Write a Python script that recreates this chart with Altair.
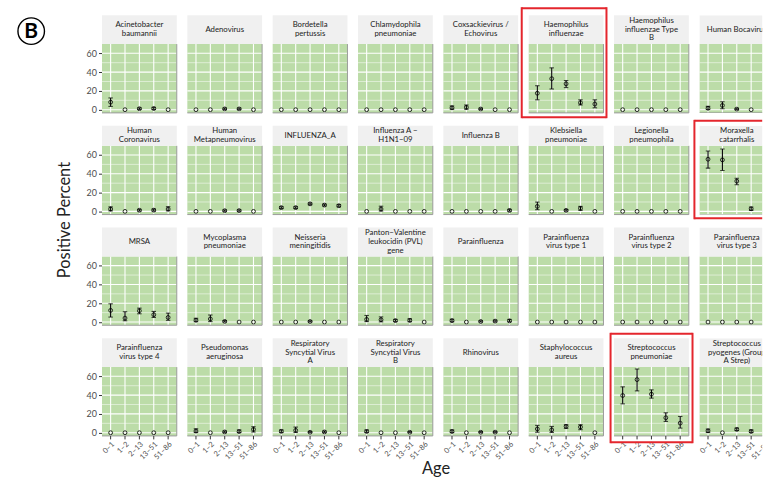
import altair as alt
import pandas as pd

FONT = "Lato"
GREEN = "#bcdca8"
STRIP_FILL = "#f0f0f0"
RED = "#e4262d"
INK = "#222222"
AXIS_INK = "#4d4d4d"

AGE_GROUPS = ["0–1", "1–2", "2–13", "13–51", "51–86"]

PATHOGENS = [
    "Acinetobacter baumannii", "Adenovirus", "Bordetella pertussis",
    "Chlamydophila pneumoniae", "Coxsackievirus / Echovirus",
    "Haemophilus influenzae", "Haemophilus influenzae Type B", "Human Bocavirus",
    "Human Coronavirus", "Human Metapneumovirus", "INFLUENZA_A",
    "Influenza A − H1N1−09", "Influenza B", "Klebsiella pneumoniae",
    "Legionella pneumophila", "Moraxella catarrhalis",
    "MRSA", "Mycoplasma pneumoniae", "Neisseria meningitidis",
    "Panton−Valentine leukocidin (PVL) gene", "Parainfluenza",
    "Parainfluenza virus type 1", "Parainfluenza virus type 2",
    "Parainfluenza virus type 3",
    "Parainfluenza virus type 4", "Pseudomonas aeruginosa",
    "Respiratory Syncytial Virus A", "Respiratory Syncytial Virus B",
    "Rhinovirus", "Staphylococcus aureus", "Streptococcus pneumoniae",
    "Streptococcus pyogenes (Group A Strep)",
]

STRIP_LABELS = [
    "Acinetobacter\nbaumannii", "Adenovirus", "Bordetella\npertussis",
    "Chlamydophila\npneumoniae", "Coxsackievirus /\nEchovirus",
    "Haemophilus\ninfluenzae", "Haemophilus\ninfluenzae  Type\nB", "Human Bocavirus",
    "Human\nCoronavirus", "Human\nMetapneumovirus", "INFLUENZA_A",
    "Influenza A −\nH1N1−09", "Influenza B", "Klebsiella\npneumoniae",
    "Legionella\npneumophila", "Moraxella\ncatarrhalis",
    "MRSA", "Mycoplasma\npneumoniae", "Neisseria\nmeningitidis",
    "Panton−Valentine\nleukocidin (PVL)\ngene", "Parainfluenza",
    "Parainfluenza\nvirus type 1", "Parainfluenza\nvirus type 2",
    "Parainfluenza\nvirus type 3",
    "Parainfluenza\nvirus type 4", "Pseudomonas\naeruginosa",
    "Respiratory\nSyncytial Virus\nA", "Respiratory\nSyncytial Virus\nB",
    "Rhinovirus", "Staphylococcus\naureus", "Streptococcus\npneumoniae",
    "Streptococcus\npyogenes (Group\nA Strep)",
]

# positive percent per age group, one row per pathogen
PERCENT = [
    [8, 0, 1, 1.2, 0], [0, 0, 0.8, 0.8, 0], [0, 0, 0, 0, 0], [0, 0, 0, 0, 0],
    [2, 2.5, 0.7, 0, 0], [17.5, 33, 27.5, 7.5, 6], [0, 0, 0, 0, 0], [1.5, 4.5, 0.6, 0, 0],
    [2.5, 0, 1.2, 1.3, 2.5], [0, 0, 0.7, 0.8, 0], [4, 4, 8, 6.7, 6], [0, 2.5, 0, 0, 0],
    [0, 0, 0, 0, 1], [5.3, 0, 1.1, 3.2, 0], [0, 0, 0, 0, 0], [55.5, 54.8, 32.2, 2.8, 3],
    [12.4, 4.2, 12, 7.8, 4.9], [2, 3.3, 0.7, 0, 0], [0, 0, 0.6, 0, 0], [2.8, 2.5, 1.5, 1.8, 0],
    [1.5, 0, 0.6, 1, 1.2], [0, 0, 0, 0, 0], [0, 0, 0, 0, 0], [0, 0, 0, 0, 0],
    [0, 0, 0, 0, 0], [1.8, 0, 0.8, 1.2, 3.5], [1.5, 2.5, 0.5, 0.8, 0], [1.3, 0, 0, 0.5, 0],
    [1.3, 0, 0.5, 0.6, 0], [4, 3, 6.7, 6, 0], [39.6, 56.5, 41, 15.9, 10.2], [2, 0, 3.5, 1.3, 0],
]

CI_LOW = [
    [3.5, 0, 0.2, 0.2, 0], [0, 0, 0.1, 0.1, 0], [0, 0, 0, 0, 0], [0, 0, 0, 0, 0],
    [0.4, 0.5, 0.1, 0, 0], [10.5, 22, 23.5, 5, 2], [0, 0, 0, 0, 0], [0.2, 1, 0.1, 0, 0],
    [0.5, 0, 0.3, 0.3, 0.5], [0, 0, 0.1, 0.1, 0], [3, 3, 7, 5.7, 4.8], [0, 0.3, 0, 0, 0],
    [0, 0, 0, 0, 0.2], [1.8, 0, 0.3, 1.1, 0], [0, 0, 0, 0, 0], [46, 43.5, 28.3, 1.1, 1.2],
    [5.3, 1.4, 8.8, 4.9, 1.8], [0.4, 0.5, 0.1, 0, 0], [0, 0, 0.1, 0, 0], [0.5, 0.2, 0.5, 0.4, 0],
    [0.3, 0, 0.1, 0.2, 0.3], [0, 0, 0, 0, 0], [0, 0, 0, 0, 0], [0, 0, 0, 0, 0],
    [0, 0, 0, 0, 0], [0.2, 0, 0.1, 0.2, 0.7], [0.2, 0.3, 0.1, 0.1, 0], [0.3, 0, 0, 0.1, 0],
    [0.2, 0, 0.1, 0.1, 0], [0.5, 0.3, 4.6, 3.2, 0], [30.7, 44.5, 36.8, 12, 4.9], [0.2, 0, 2.3, 0.2, 0],
]

CI_HIGH = [
    [12.5, 0, 2, 2.5, 0], [0, 0, 1.8, 1.8, 0], [0, 0, 0, 0, 0], [0, 0, 0, 0, 0],
    [4, 5, 1.6, 0, 0], [25.5, 44.5, 31, 10.5, 10.5], [0, 0, 0, 0, 0], [3.5, 8.5, 1.5, 0, 0],
    [4.8, 0, 2.2, 2.5, 5], [0, 0, 1.6, 1.7, 0], [5, 5, 9, 7.7, 7.2], [0, 5.5, 0, 0, 0],
    [0, 0, 0, 0, 2.2], [9.9, 0, 2, 5.3, 0], [0, 0, 0, 0, 0], [64.3, 66.4, 35.3, 4.6, 5],
    [19.4, 11, 14.8, 11.3, 9.5], [4, 7.5, 1.6, 0, 0], [0, 0, 1.4, 0, 0], [7, 5.5, 2.8, 3.5, 0],
    [3, 0, 1.4, 2, 2.8], [0, 0, 0, 0, 0], [0, 0, 0, 0, 0], [0, 0, 0, 0, 0],
    [0, 0, 0, 0, 0], [4.2, 0, 1.8, 3, 6.4], [3, 6, 1.3, 1.8, 0], [3, 0, 0, 1.3, 0],
    [3, 0, 1.3, 1.4, 0], [7.8, 6.7, 8.5, 8.5, 0], [48.8, 67.8, 45.6, 21.2, 17.3], [4, 0, 5, 3, 0],
]

# red outline around selected panels: (left, right, top, bottom) offsets in px
HIGHLIGHT_FRAMES = {
    "Haemophilus influenzae": (-7, 3, -7, 4.3),
    "Moraxella catarrhalis": (-5, 3, -5, 3.7),
    "Streptococcus pneumoniae": (-3.5, 3.7, -4.4, 6.3),
}

Y_MAJOR = [0, 20, 40, 60]
Y_MINOR = [10, 30, 50]
Y_DOMAIN = [-3.4, 69.8]

N_COLS = 8
N_ROWS = 4
STRIP_HEIGHTS = [29, 20, 29, 29]
PANEL_W, PANEL_H = 75, 69
LAST_W = 63  # right-most column runs off the page edge
LABEL_SPACE = 24
LINE_H = 8.8

one = pd.DataFrame({"k": [0]})
age_df = pd.DataFrame({"age": AGE_GROUPS})
major_df = pd.DataFrame({"v": Y_MAJOR})
minor_df = pd.DataFrame({"v": Y_MINOR})


def make_panel(idx):
    r, c = divmod(idx, N_COLS)
    name = PATHOGENS[idx]
    sh = STRIP_HEIGHTS[r]
    top, bot = sh, sh + PANEL_H
    last_col = c == N_COLS - 1
    bottom_row = r == N_ROWS - 1
    w = LAST_W if last_col else PANEL_W
    h = bot + (LABEL_SPACE if bottom_row else 0)
    clip = last_col

    xs = alt.Scale(type="point", domain=AGE_GROUPS, range=[0, PANEL_W], padding=0.6)
    ys = alt.Scale(domain=Y_DOMAIN, range=[bot, top], nice=False, zero=False)
    if c == 0:
        y_axis = alt.Axis(
            values=Y_MAJOR, title=None, grid=False, domain=False,
            tickSize=3.5, tickColor="#333333", tickWidth=1,
            labelFont=FONT, labelFontSize=9, labelColor=AXIS_INK, labelPadding=2,
        )
    else:
        y_axis = None

    def X(field="age:N"):
        return alt.X(field, scale=xs, axis=None)

    def Y(field):
        return alt.Y(field, scale=ys, axis=y_axis)

    data = pd.DataFrame({
        "age": AGE_GROUPS,
        "pct": PERCENT[idx],
        "lo": CI_LOW[idx],
        "hi": CI_HIGH[idx],
    })
    with_bars = data[data.hi > 0]

    layers = []
    # green panel background and white grid
    layers.append(alt.Chart(one).mark_rect(color=GREEN, clip=clip).encode(
        x=alt.value(0), x2=alt.value(PANEL_W), y=alt.value(top), y2=alt.value(bot)))
    layers.append(alt.Chart(minor_df).mark_rule(color="white", strokeWidth=0.5, clip=clip).encode(
        y=Y("v:Q"), x=alt.value(0), x2=alt.value(PANEL_W)))
    layers.append(alt.Chart(major_df).mark_rule(color="white", strokeWidth=1.1, clip=clip).encode(
        y=Y("v:Q"), x=alt.value(0), x2=alt.value(PANEL_W)))
    layers.append(alt.Chart(age_df).mark_rule(color="white", strokeWidth=1.1, clip=clip).encode(
        x=X(), y=alt.value(top), y2=alt.value(bot)))
    # thin grey edge on the bottom and right of the panel
    layers.append(alt.Chart(one).mark_rule(color="#9c9c9c", strokeWidth=1, clip=clip).encode(
        x=alt.value(0), x2=alt.value(PANEL_W), y=alt.value(bot)))
    if not last_col:
        layers.append(alt.Chart(one).mark_rule(color="#9c9c9c", strokeWidth=1).encode(
            x=alt.value(PANEL_W), y=alt.value(top), y2=alt.value(bot)))

    # strip with the pathogen name
    lines = STRIP_LABELS[idx].split("\n")
    layers.append(alt.Chart(one).mark_rect(color=STRIP_FILL, clip=clip).encode(
        x=alt.value(0), x2=alt.value(PANEL_W), y=alt.value(0), y2=alt.value(sh)))
    layers.append(alt.Chart(one).mark_text(
        text=lines, font=FONT, fontSize=7.8, lineHeight=LINE_H, color=INK,
        align="center", baseline="middle", clip=clip,
    ).encode(x=alt.value(PANEL_W / 2), y=alt.value(sh / 2 - (len(lines) - 1) * LINE_H / 2)))

    # confidence intervals and point estimates
    if len(with_bars):
        layers.append(alt.Chart(with_bars).mark_rule(color="black", strokeWidth=1.1, clip=clip).encode(
            x=X(), y=Y("lo:Q"), y2="hi:Q"))
        for f in ("lo:Q", "hi:Q"):
            layers.append(alt.Chart(with_bars).mark_tick(
                color="black", thickness=1.1, size=4.5, orient="horizontal", clip=clip,
            ).encode(x=X(), y=Y(f)))
    layers.append(alt.Chart(data).mark_point(
        shape="circle", size=15, color="black", strokeWidth=0.8, filled=False,
        opacity=1, clip=clip,
    ).encode(x=X(), y=Y("pct:Q")))

    # age-group ticks and labels under the bottom row
    if bottom_row:
        layers.append(alt.Chart(age_df).mark_rule(color="#333333", strokeWidth=1, clip=clip).encode(
            x=X(), y=alt.value(bot), y2=alt.value(bot + 3.5)))
        layers.append(alt.Chart(age_df).mark_text(
            angle=315, align="right", baseline="top", font=FONT, fontSize=7.5,
            color=AXIS_INK, clip=clip,
        ).encode(x=X(), y=alt.value(bot + 4.5), text="age:N"))

    if name in HIGHLIGHT_FRAMES:
        fl, fr, ft, fb = HIGHLIGHT_FRAMES[name]
        x_right = PANEL_W + fr if not last_col else w
        y_top, y_bot = ft, bot + fb
        rule = dict(color=RED, strokeWidth=2)
        layers.append(alt.Chart(one).mark_rule(**rule).encode(
            x=alt.value(fl), x2=alt.value(x_right), y=alt.value(y_top)))
        layers.append(alt.Chart(one).mark_rule(**rule).encode(
            x=alt.value(fl), x2=alt.value(x_right), y=alt.value(y_bot)))
        layers.append(alt.Chart(one).mark_rule(**rule).encode(
            x=alt.value(fl), y=alt.value(y_top - 1), y2=alt.value(y_bot + 1)))
        if not last_col:
            layers.append(alt.Chart(one).mark_rule(**rule).encode(
                x=alt.value(x_right), y=alt.value(y_top - 1), y2=alt.value(y_bot + 1)))

    if idx == 0:
        # panel letter, shared y title and shared x title
        layers.append(alt.Chart(one).mark_point(
            shape="circle", size=707, strokeWidth=1.4, color="black", filled=False, opacity=1,
        ).encode(x=alt.value(-71), y=alt.value(16)))
        layers.append(alt.Chart(one).mark_text(
            text="B", font=FONT, fontSize=21, fontWeight="bold", color="black",
            align="center", baseline="middle",
        ).encode(x=alt.value(-71), y=alt.value(17)))
        layers.append(alt.Chart(one).mark_text(
            text="Positive Percent", font=FONT, fontSize=16.5, angle=270, color=INK,
            align="center", baseline="middle",
        ).encode(x=alt.value(-37), y=alt.value(205.5)))
        layers.append(alt.Chart(one).mark_text(
            text="Age", font=FONT, fontSize=16.5, color=INK,
            align="center", baseline="middle",
        ).encode(x=alt.value(335), y=alt.value(455)))

    return alt.layer(*layers).properties(
        width=w, height=h,
        view=alt.ViewBackground(stroke="transparent", fill="transparent"),
    )


panels = [make_panel(i) for i in range(len(PATHOGENS))]

chart = alt.concat(
    *panels, columns=N_COLS, spacing={"row": 13, "column": 10.6},
    bounds="flush", align="each",
).resolve_scale(x="independent", y="independent").properties(
    padding={"left": 14.3, "top": 4.5, "right": 0, "bottom": 0},
    background="white",
)

chart.save("out.html", embed_options={"renderer": "svg", "actions": False})
